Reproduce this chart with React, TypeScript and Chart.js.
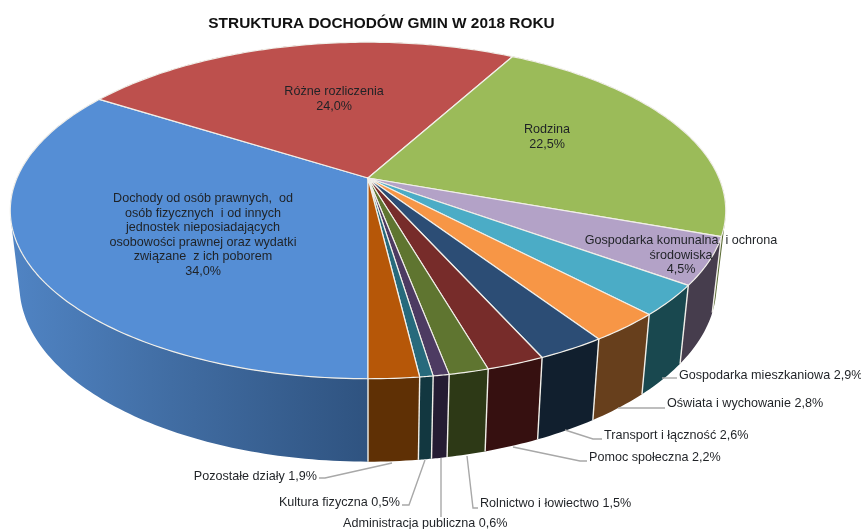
import { useEffect, useRef } from "react";
import { Chart, registerables } from "chart.js";

Chart.register(...registerables);

const titleText = "STRUKTURA DOCHODÓW GMIN W 2018 ROKU";

const categories = [
  "Dochody od osób prawnych, od osób fizycznych i od innych jednostek nieposiadających osobowości prawnej oraz wydatki związane z ich poborem",
  "Różne rozliczenia",
  "Rodzina",
  "Gospodarka komunalna i ochrona środowiska",
  "Gospodarka mieszkaniowa",
  "Oświata i wychowanie",
  "Transport i łączność",
  "Pomoc społeczna",
  "Rolnictwo i łowiectwo",
  "Administracja publiczna",
  "Kultura fizyczna",
  "Pozostałe działy",
];
const shares = [34.0, 24.0, 22.5, 4.5, 2.9, 2.8, 2.6, 2.2, 1.5, 0.6, 0.5, 1.9];
const topColors = ["#558ed5", "#bd504d", "#9bbb59", "#b3a2c7", "#4bacc6", "#f79646", "#2c4d75", "#772c2a", "#5f7530", "#4d3b62", "#276a7c", "#b65708"];
const sideColors = ["#3f6a9e", "#5e2725", "#56682f", "#463d4d", "#19484f", "#673f1c", "#111f2e", "#361010", "#2d3916", "#251c33", "#123740", "#5f3005"];

// display wrapping for the labels inside the pie
const wrapped: Record<number, string[]> = {
  0: ["Dochody od osób prawnych,  od", "osób fizycznych  i od innych", "jednostek nieposiadających", "osobowości prawnej oraz wydatki", "związane  z ich poborem"],
  3: ["Gospodarka komunalna  i ochrona", "środowiska"],
};

// label layout, separate from the data
const insideLayout: Record<number, { x: number; y: number }> = {
  0: { x: 203, y: 198 },
  1: { x: 334, y: 91 },
  2: { x: 547, y: 129 },
  3: { x: 681, y: 240 },
};
const outsideLayout: Record<number, { x: number; y: number; align: CanvasTextAlign; leader: number[][] }> = {
  4: { x: 679, y: 375, align: "left", leader: [[662, 378], [677, 378]] },
  5: { x: 667, y: 403, align: "left", leader: [[618, 408], [665, 408]] },
  6: { x: 604, y: 435, align: "left", leader: [[565, 430], [593, 439], [602, 439]] },
  7: { x: 589, y: 457, align: "left", leader: [[513, 447], [580, 461], [587, 461]] },
  8: { x: 480, y: 503, align: "left", leader: [[467, 456], [473, 508], [478, 508]] },
  9: { x: 343, y: 523, align: "left", leader: [[441, 458], [441, 517]] },
  10: { x: 400, y: 502, align: "right", leader: [[425, 460], [409, 505], [402, 505]] },
  11: { x: 317, y: 476, align: "right", leader: [[392, 463], [325, 478], [319, 478]] },
};

const topDisc = { cx: 368, cy: 178, a: 162, b: 351, p: 0.193 };
const baseDisc = { cx: 368, cy: 251, a: 170, b: 342, p: 0.193 };
type Disc = typeof topDisc;

const project = (d: Disc, theta: number): [number, number] => {
  const u = Math.cos(theta);
  const v = Math.sin(theta);
  const w = 1 - d.p * v;
  return [d.cx + (d.b * u) / w, d.cy + (d.a * v) / w];
};

const edgeColor = "#f1efe9";
const fontFamily = '"Liberation Sans", Arial, sans-serif';
const fmt = (v: number) => `${v.toFixed(1).replace(".", ",")}%`;

const pie3d = {
  id: "pie3d",
  beforeDatasetsDraw(chart: any) {
    const ctx: CanvasRenderingContext2D = chart.ctx;
    const arcs = chart.getDatasetMeta(0).data as any[];
    ctx.save();

    // side walls: all quads of a slice in one path, wound the same way,
    // so that no seams show and the silhouette joins both discs
    arcs.forEach((arc, i) => {
      const { startAngle, endAngle } = arc;
      const n = Math.max(8, Math.ceil((endAngle - startAngle) * 60));
      let paint: string | CanvasGradient = sideColors[i];
      if (i === 0) {
        const g = ctx.createLinearGradient(10, 0, 368, 0);
        g.addColorStop(0, "#5084c4");
        g.addColorStop(0.45, "#416da3");
        g.addColorStop(1, "#2f5380");
        paint = g;
      }
      ctx.fillStyle = paint;
      ctx.beginPath();
      for (let k = 0; k < n; k++) {
        const t0 = startAngle + ((endAngle - startAngle) * k) / n;
        const t1 = startAngle + ((endAngle - startAngle) * (k + 1)) / n;
        const quad = [project(topDisc, t0), project(topDisc, t1), project(baseDisc, t1), project(baseDisc, t0)];
        let area = 0;
        quad.forEach((p, j) => {
          const q = quad[(j + 1) % 4];
          area += p[0] * q[1] - q[0] * p[1];
        });
        if (area < 0) quad.reverse();
        quad.forEach((p, j) => (j ? ctx.lineTo(p[0], p[1]) : ctx.moveTo(p[0], p[1])));
        ctx.closePath();
      }
      ctx.fill();
    });

    // dividers on the visible part of the wall
    ctx.strokeStyle = edgeColor;
    ctx.lineWidth = 1.4;
    arcs.forEach((arc) => {
      const t = arc.startAngle;
      if (Math.sin(t) < 0.25) return;
      const [x0, y0] = project(topDisc, t);
      const [x1, y1] = project(baseDisc, t);
      ctx.beginPath();
      ctx.moveTo(x0, y0);
      ctx.lineTo(x1, y1);
      ctx.stroke();
    });

    // top face
    ctx.lineJoin = "round";
    arcs.forEach((arc, i) => {
      const { startAngle, endAngle } = arc;
      const n = Math.max(8, Math.ceil((endAngle - startAngle) * 60));
      ctx.beginPath();
      ctx.moveTo(topDisc.cx, topDisc.cy);
      for (let k = 0; k <= n; k++) {
        const [x, y] = project(topDisc, startAngle + ((endAngle - startAngle) * k) / n);
        ctx.lineTo(x, y);
      }
      ctx.closePath();
      ctx.fillStyle = topColors[i];
      ctx.fill();
      ctx.strokeStyle = edgeColor;
      ctx.lineWidth = 1.2;
      ctx.stroke();
    });
    ctx.restore();
    return false;
  },
  afterDraw(chart: any) {
    const ctx: CanvasRenderingContext2D = chart.ctx;
    ctx.save();
    ctx.font = `12.6px ${fontFamily}`;
    ctx.fillStyle = "#1f2226";
    ctx.textBaseline = "middle";

    Object.keys(insideLayout).forEach((key) => {
      const i = Number(key);
      const pos = insideLayout[i];
      const lines = [...(wrapped[i] ?? [categories[i]]), fmt(shares[i])];
      ctx.textAlign = "center";
      lines.forEach((line, k) => ctx.fillText(line, pos.x, pos.y + 1 + k * 14.5));
    });

    Object.keys(outsideLayout).forEach((key) => {
      const i = Number(key);
      const pos = outsideLayout[i];
      ctx.strokeStyle = "#a8a8a8";
      ctx.lineWidth = 1.4;
      ctx.beginPath();
      pos.leader.forEach(([x, y], k) => (k ? ctx.lineTo(x, y) : ctx.moveTo(x, y)));
      ctx.stroke();
      ctx.textAlign = pos.align;
      ctx.fillStyle = "#1f2226";
      ctx.fillText(`${categories[i]} ${fmt(shares[i])}`, pos.x, pos.y + 1);
    });
    ctx.restore();
  },
};

export default function App() {
  const ref = useRef<HTMLCanvasElement>(null);
  useEffect(() => {
    if (!ref.current) return;
    const chart = new Chart(ref.current, {
      type: "pie",
      data: {
        labels: categories,
        datasets: [{ data: shares, backgroundColor: topColors, borderColor: edgeColor }],
      },
      options: {
        responsive: false,
        animation: false,
        rotation: 180,
        layout: { padding: { right: 98 } },
        plugins: {
          legend: { display: false },
          tooltip: { enabled: false },
          title: {
            display: true,
            text: titleText,
            color: "#111111",
            font: { family: fontFamily, size: 15.4, weight: "bold" },
            padding: { top: 15, bottom: 4 },
          },
        },
      },
      plugins: [pie3d],
    } as any);
    return () => chart.destroy();
  }, []);
  return (
    <div style={{ position: "absolute", left: 0, top: 0, width: 861, height: 529, background: "#fff", overflow: "hidden" }}>
      <canvas ref={ref} width={861} height={529} style={{ display: "block", filter: "blur(0.4px)" }} />
    </div>
  );
}
